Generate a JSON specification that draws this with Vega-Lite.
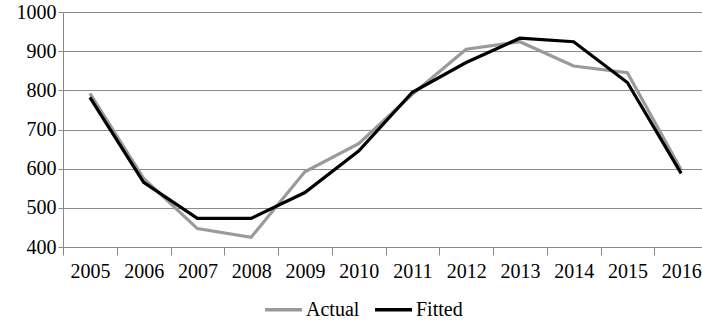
{
  "$schema": "https://vega.github.io/schema/vega-lite/v6.json",
  "autosize": {"type": "none"},
  "width": 645,
  "height": 235,
  "padding": {"left": 63, "top": 12, "right": 0, "bottom": 77},
  "config": {
    "font": "Liberation Serif",
    "view": {"stroke": null},
    "axis": {"labelFont": "Liberation Serif", "labelColor": "#000000", "labelFontSize": 20}
  },
  "data": {
    "values": [
      {"year": "2005", "series": "Actual", "value": 792},
      {"year": "2006", "series": "Actual", "value": 575},
      {"year": "2007", "series": "Actual", "value": 447},
      {"year": "2008", "series": "Actual", "value": 425},
      {"year": "2009", "series": "Actual", "value": 592},
      {"year": "2010", "series": "Actual", "value": 664},
      {"year": "2011", "series": "Actual", "value": 790},
      {"year": "2012", "series": "Actual", "value": 905},
      {"year": "2013", "series": "Actual", "value": 924},
      {"year": "2014", "series": "Actual", "value": 862},
      {"year": "2015", "series": "Actual", "value": 845},
      {"year": "2016", "series": "Actual", "value": 597},
      {"year": "2005", "series": "Fitted", "value": 782},
      {"year": "2006", "series": "Fitted", "value": 565},
      {"year": "2007", "series": "Fitted", "value": 473},
      {"year": "2008", "series": "Fitted", "value": 473},
      {"year": "2009", "series": "Fitted", "value": 539},
      {"year": "2010", "series": "Fitted", "value": 645},
      {"year": "2011", "series": "Fitted", "value": 795},
      {"year": "2012", "series": "Fitted", "value": 871},
      {"year": "2013", "series": "Fitted", "value": 933},
      {"year": "2014", "series": "Fitted", "value": 924},
      {"year": "2015", "series": "Fitted", "value": 820},
      {"year": "2016", "series": "Fitted", "value": 588}
    ]
  },
  "mark": {"type": "line", "strokeWidth": 3.2},
  "encoding": {
    "x": {
      "field": "year", "type": "ordinal", "bandPosition": 0.5,
      "scale": {"type": "band", "paddingInner": 0, "paddingOuter": 0},
      "axis": {
        "title": null, "labelAngle": 0, "tickBand": "extent",
        "domainColor": "#888888", "tickColor": "#888888", "tickSize": 8,
        "labelPadding": 6, "grid": false
      }
    },
    "y": {
      "field": "value", "type": "quantitative",
      "scale": {"domain": [400, 1000], "nice": false, "zero": false},
      "axis": {
        "title": null, "values": [400, 500, 600, 700, 800, 900, 1000], "format": "d",
        "domainColor": "#888888", "tickColor": "#888888", "tickSize": 5,
        "gridColor": "#8a8a8a", "labelPadding": 2
      }
    },
    "color": {
      "field": "series", "type": "nominal",
      "scale": {"domain": ["Actual", "Fitted"], "range": ["#9a9a9a", "#000000"]},
      "legend": {
        "title": null, "orient": "none", "direction": "horizontal",
        "legendX": 200, "legendY": 277,
        "symbolType": "stroke", "symbolSize": 1369, "symbolStrokeWidth": 3.5,
        "labelFontSize": 20, "labelColor": "#000000", "labelOffset": 2,
        "columnPadding": 8
      }
    }
  }
}
